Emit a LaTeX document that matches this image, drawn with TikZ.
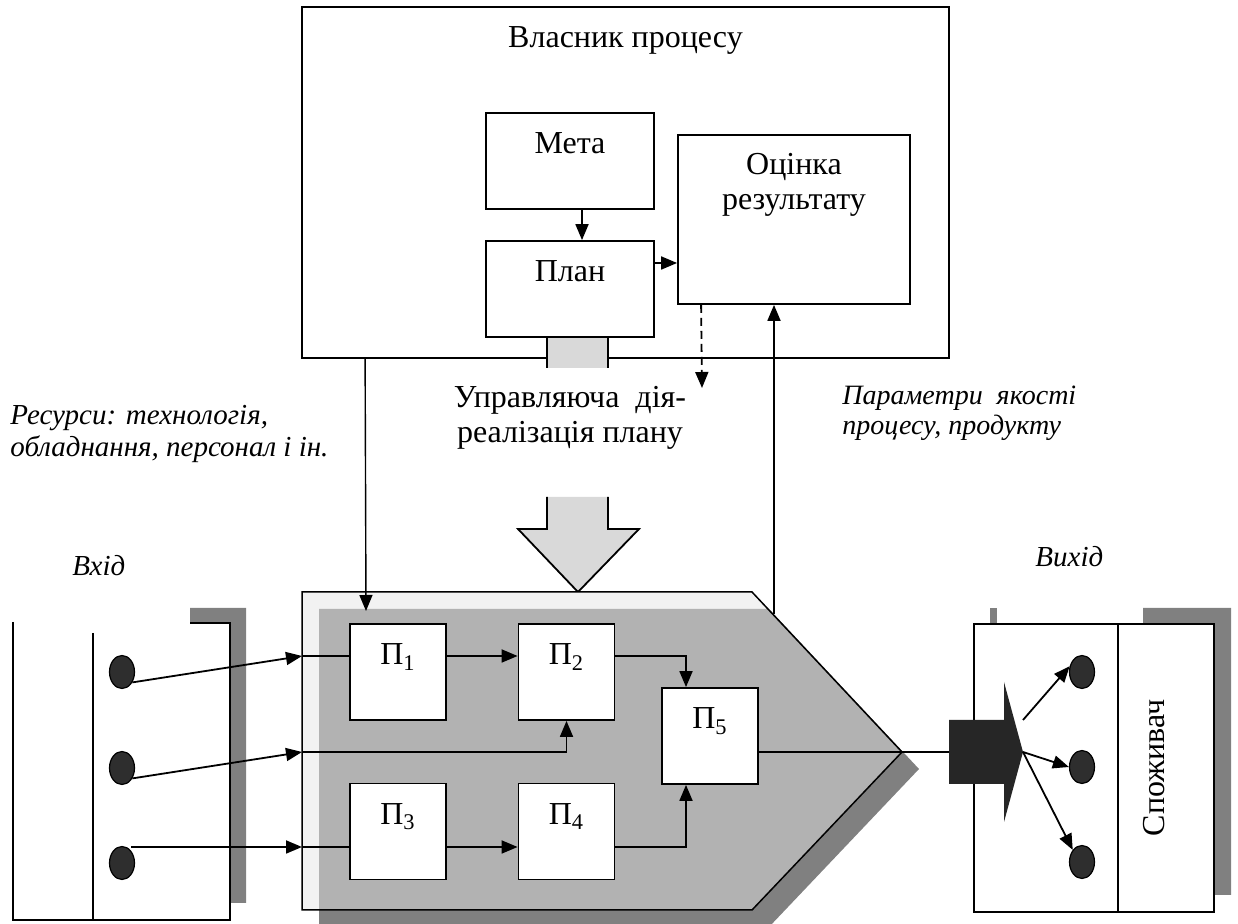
\documentclass[tikz,border=0pt]{standalone}
\usepackage{fontspec}
\setmainfont{Liberation Serif}
\usetikzlibrary{arrows.meta, positioning, shapes.geometric}

\begin{document}
\begin{tikzpicture}[
  x=0.5pt, y=-0.5pt,
  every node/.style = {font=\fontsize{16}{17.5}\selectfont},
  box/.style = {draw, line width=0.9pt, fill=white, inner sep=0pt,
    text height=20.5pt, text depth=27.5pt},
  p box/.style = {box, minimum width=48pt},
  m box/.style = {box, minimum width=84pt},
  frame/.style = {draw, line width=0.9pt, inner sep=0pt},
  dot/.style = {ellipse, draw, line width=0.6pt, fill=black!82, inner sep=0pt,
    minimum width=12.5pt, minimum height=16.5pt},
  arr/.style = {-{Triangle[length=8pt,width=6.5pt]}, line width=0.9pt},
  thin arr/.style = {arr, line width=0.7pt},
  ln/.style = {line width=0.9pt},
  note/.style = {font=\fontsize{14}{15}\selectfont\itshape, align=left, inner sep=0pt},
  big note/.style = {note, font=\fontsize{14.5}{16}\selectfont\itshape},
  txt/.style = {align=center, inner sep=0pt},
]
\path[use as bounding box, fill=white] (0,0) rectangle (1238,924);
\clip (0,0) rectangle (1238,924);

% owner of the process
\node[frame, minimum width=323.5pt, minimum height=175.5pt] (owner) at (625.5,182.5) {};
\node[anchor=base, inner sep=0pt] (owner-lbl) at (625.5,48) {Власник процесу};
\node[m box] (meta) at (570,161) {Мета};
\node[m box] (plan) at (570,289) {План};
\node[frame, fill=white, minimum width=116pt, minimum height=84.5pt] (ocin) at (794,219.5) {};
\node[txt, anchor=north] (ocin-lbl) at (794,153) {Оцінка\\результату};

\fill[black!15] (547,338) rectangle (608,368);
\draw[ln] (547,338) -- (547,368) (608,338) -- (608,368);

\draw[arr] ([xshift=6pt]meta.south) -- ([xshift=6pt]plan.north);
\draw[arr] ([yshift=13pt]plan.east) -- ([yshift=13pt]plan.east -| ocin.west);

% control action
\coordinate (ctl-end) at (702,388);
\draw[arr, dash pattern=on 4pt off 2.5pt] ([xshift=12pt]ocin.south west) -- (ctl-end);
\node[txt, anchor=north] (ctl) at (570,386) {Управляюча\ \ дія-\\реалізація плану};

\fill[black!15] (547,497) -- (547,529) -- (518,529) -- (578,592) -- (639,529) -- (608,529) -- (608,497) -- cycle;
\draw[ln] (547,497) -- (547,529) -- (518,529) -- (578,592) -- (639,529) -- (608,529) -- (608,497);

\node[big note, anchor=north west] (res) at (10,405) {Ресурси: технологія,\\обладнання, персонал і ін.};
\node[note, anchor=north west] (qual) at (842,386) {Параметри\ \ якості\\процесу, продукту};
\node[big note, anchor=base west] (in-lbl) at (72,576) {Вхід};
\node[big note, anchor=base west] (out-lbl) at (1035,567) {Вихід};

% input
\fill[black!50] (190,608) -- (246,608) -- (246,903) -- (230,903) -- (230,623) -- (190,623) -- cycle;
\draw[ln] (13,622) -- (13,920) -- (230,920) -- (230,623) -- (190,623);
\draw[ln] (93,633) -- (93,920);
\node[dot] (in1) at (122,672) {};
\node[dot] (in2) at (122,768) {};
\node[dot] (in3) at (122,863) {};

% process
\fill[black!50, shift={(17,17)}] (302,592) -- (752,592) -- (902,752) -- (752,910) -- (302,910) -- cycle;
\fill[black!5] (302,592) -- (752,592) -- (902,752) -- (752,910) -- (302,910) -- cycle;
\begin{scope}
  \clip (302,592) -- (752,592) -- (902,752) -- (752,910) -- (302,910) -- cycle;
  \fill[black!30, shift={(17,17)}] (302,592) -- (752,592) -- (902,752) -- (752,910) -- (302,910) -- cycle;
\end{scope}
\draw[line width=0.75pt] (302,592) -- (752,592) -- (902,752) -- (752,910) -- (302,910) -- cycle;

\coordinate (a1) at (302,656);
\coordinate (a2) at (302,752);
\coordinate (a3) at (302,847);
\coordinate (tip) at (902,752);

\node[p box] (p1) at (398,672) {П\textsubscript{1}};
\node[p box] (p2) at (566.5,672) {П\textsubscript{2}};
\node[p box] (p3) at (398,831.5) {П\textsubscript{3}};
\node[p box] (p4) at (566.5,831.5) {П\textsubscript{4}};
\node[p box] (p5) at (710,736) {П\textsubscript{5}};

\draw[arr] (in1.-45) -- (a1);
\draw[arr] (in2.-45) -- (a2);
\draw[arr] (in3.north east |- a3) -- (a3);
\draw[ln] (a1) -- (a1 -| p1.west);
\draw[ln] (a3) -- (a3 -| p3.west);
\draw[arr] (p1.east |- a1) -- (p2.west |- a1);
\draw[arr] (p3.east |- a3) -- (p4.west |- a3);
\draw[arr] (a2) -| (p2.south);
\draw[arr] (p2.east |- a1) -| ([xshift=-12pt]p5.north);
\draw[arr] (p4.east |- a3) -| ([xshift=-12pt]p5.south);

% resources and quality feedback
\coordinate (res-end) at (366,611);
\coordinate (qual-start) at (774,614);
\draw[thin arr] ([xshift=32pt]owner.south west) -- (res-end);
\draw[arr] (qual-start) -- ([xshift=-10pt]ocin.south);

% output
\fill[black!50] (990,608) rectangle (997,624);
\fill[black!50] (1143,608) -- (1231,608) -- (1231,895) -- (1214,895) -- (1214,624) -- (1143,624) -- cycle;
\node[frame, fill=white, minimum width=120pt, minimum height=144pt] (cons) at (1094,768) {};
\draw[ln] ([xshift=12pt]cons.north) -- ([xshift=12pt]cons.south);
\node[rotate=90, inner sep=0pt] (cons-lbl) at (1154,768) {Споживач};

\coordinate (blk) at (949,752);
\coordinate (blk-tip) at (1023,752);
\coordinate (blk-up) at (1023,720);
\fill[black!85] (949,720) -- (1004,720) -- (1004,682) -- (1023,752) -- (1004,822) -- (1004,784) -- (949,784) -- cycle;
\draw[ln] (p5.east |- tip) -- (blk);

\node[dot] (out1) at (1082,672) {};
\node[dot] (out2) at (1082,767) {};
\node[dot] (out3) at (1082,862) {};
\draw[arr] (blk-up) -- (out1.155);
\draw[arr] (blk-tip) -- (out2.west);
\draw[arr] (blk-tip) -- (out3.north west);
\end{tikzpicture}
\end{document}
